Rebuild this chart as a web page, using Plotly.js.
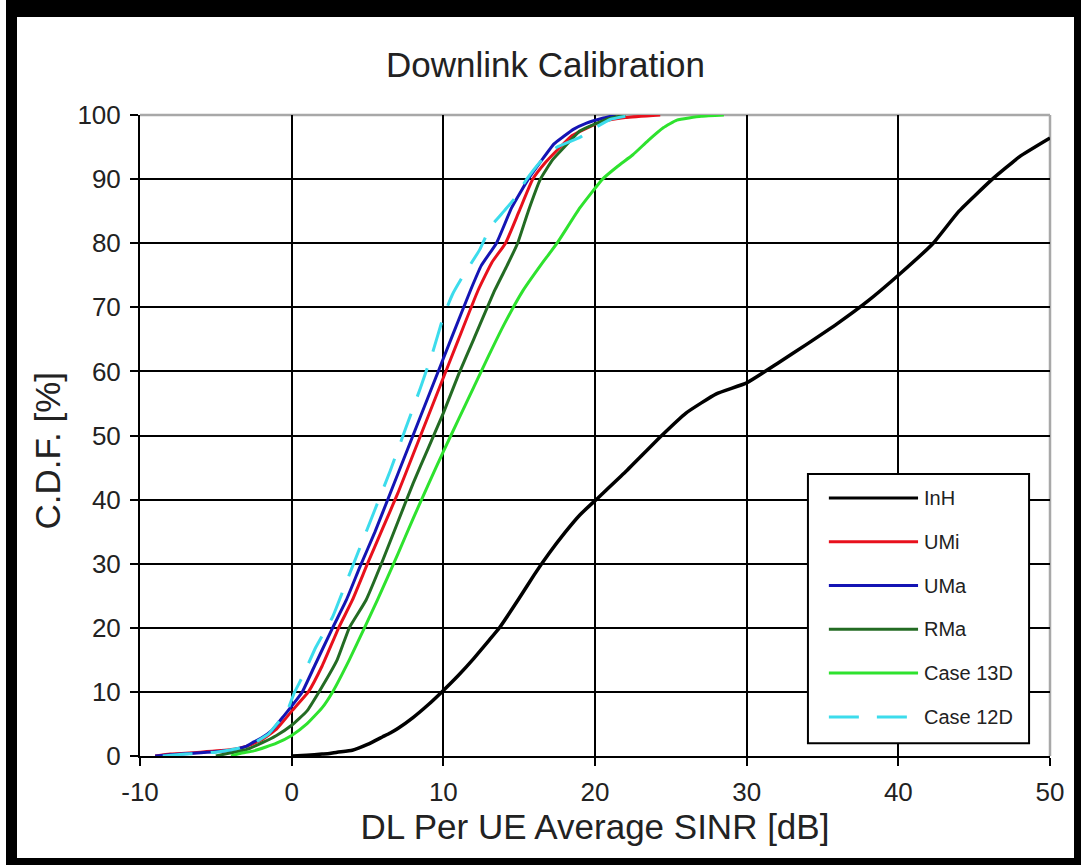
<!DOCTYPE html>
<html>
<head>
<meta charset="utf-8">
<script src="https://cdn.plot.ly/plotly-3.0.1.min.js"></script>
<style>
  html, body { margin: 0; padding: 0; background: #fff; width: 1081px; height: 865px; overflow: hidden; }
  #frame { position: absolute; left: 6px; top: 0; width: 1075px; height: 865px; background: #000; }
  #chart { position: absolute; left: 17px; top: 17px; width: 1057px; height: 841px; background: #fff; }
</style>
</head>
<body>
<div id="frame"></div>
<div id="chart"></div>
<script>
// Downlink SINR CDF per deployment scenario (SINR in dB, CDF in %)
const seriesNames = ["InH", "UMi", "UMa", "RMa", "Case 13D", "Case 12D"];
const seriesColors = ["#000000", "#e8101c", "#1414b4", "#236b23", "#2ee22e", "#3cdcec"];

const inhSinr = [0, 1, 2, 2.5, 3, 4, 5, 6, 6.5, 7, 8, 9, 9.9, 11, 12, 13, 13.7, 15, 16, 17, 18, 19, 20.3, 22, 24.4, 26, 28, 30, 32, 34, 36, 38, 40, 42.3, 44, 46.2, 48, 50];
const inhCdf  = [0, 0.1, 0.3, 0.4, 0.6, 0.9, 1.8, 3, 3.6, 4.3, 6, 8, 10, 12.6, 15.2, 18, 20, 24.6, 28.3, 31.7, 34.8, 37.6, 40.5, 44.3, 50, 53.5, 56.5, 58.2, 61.2, 64.3, 67.5, 71, 75, 80, 85, 90, 93.5, 96.4];

const umiSinr = [-9, -8, -6, -4, -3, -2, -1, 0, 1.1, 2, 3.1, 4.0, 5, 6, 7, 8, 9, 10, 11, 12.3, 13.2, 14.1, 15, 15.9, 16.7, 17.5, 18.5, 19.5, 20.5, 22, 24.3];
const umiCdf  = [0, 0.3, 0.6, 1.0, 1.5, 2.5, 4.2, 7, 10, 14, 20, 24.3, 30, 35.5, 41, 47, 53, 59, 65, 72.7, 77, 80, 85, 90, 92.5, 94.5, 96.8, 98, 99, 99.6, 100];

const umaSinr = [-9, -8, -6, -4, -3, -2.5, -2, -1.3, -0.5, 0, 0.7, 1.5, 2.7, 3.6, 4.5, 5.5, 6.5, 7.5, 8.5, 9.5, 10.5, 11.8, 12.5, 13.5, 14.5, 15.6, 16.5, 17.3, 17.9, 18.6, 19.4, 20.5, 21.4];
const umaCdf  = [0, 0.2, 0.5, 0.9, 1.5, 2.2, 2.8, 4, 6.3, 7.8, 10, 14, 20, 24.3, 29.5, 35, 41, 47, 53, 59, 65, 72.7, 76.5, 80, 85.5, 90, 93, 95.5, 96.6, 97.8, 98.7, 99.5, 100];

const rmaSinr = [-5, -4, -3, -2, -1, 0, 1, 1.8, 3, 3.8, 4.9, 6, 7, 8, 9, 10, 11, 12, 13.4, 14.2, 14.9, 15.6, 16.4, 17.2, 17.9, 19, 20.1, 21, 22];
const rmaCdf  = [0, 0.5, 1.0, 2, 3.2, 4.8, 7, 10, 15, 20, 24.3, 30.5, 36.5, 42.5, 48, 53.5, 59.5, 65, 72.7, 76.5, 80, 85, 90, 93, 94.8, 97.5, 98.7, 99.5, 100];

const case13dSinr = [-4, -3.4, -2.5, -1.7, -1, 0, 1, 2, 2.7, 3.8, 4.8, 5.65, 7, 8, 9, 10, 11, 12, 13, 14, 15.25, 16.4, 17.5, 19, 20.5, 21.5, 22.5, 23.5, 24.5, 25.4, 27, 28.5];
const case13dCdf  = [0, 0.4, 0.8, 1.4, 2, 3.2, 5, 7.5, 10, 15, 20, 24.3, 31.5, 37, 42.3, 47.5, 52.5, 57.5, 62.5, 67.3, 72.6, 76.5, 80, 85.5, 90, 92, 93.8, 96, 98, 99.2, 99.8, 100];

const case12dSinr = [-8.5, -7, -5, -3.5, -2.5, -1.5, -0.8, -0.37, 0.2, 0.7, 1.6, 2.7, 3.5, 4.5, 5.5, 6.5, 7.5, 8.5, 9.3, 10.0, 10.6, 11.2, 12.4, 13.1, 14, 14.7, 15.5, 16.5, 17.5, 19, 20, 21, 22.5];
const case12dCdf  = [0, 0.3, 0.6, 1.2, 2, 3.5, 5.5, 6.6, 10, 12.3, 17, 21.7, 26.5, 32.5, 38.5, 44.5, 51, 57.5, 63, 68.5, 72, 74.5, 79, 82.5, 85, 87, 90, 93, 95, 96.5, 98, 99.3, 100];

const xTickVals = [-10, 0, 10, 20, 30, 40, 50];
const yTickVals = [0, 10, 20, 30, 40, 50, 60, 70, 80, 90, 100];

const sinrData = [inhSinr, umiSinr, umaSinr, rmaSinr, case13dSinr, case12dSinr];
const cdfData  = [inhCdf, umiCdf, umaCdf, rmaCdf, case13dCdf, case12dCdf];

const FONT = "Liberation Sans, Arial, Helvetica, sans-serif";
const TEXT = "#222222";
const dashFor = i => (i === 5 ? "30px,18px" : "solid");

const traces = seriesNames.map((name, i) => ({
  type: "scatter",
  mode: "lines",
  name: name,
  x: sinrData[i],
  y: cdfData[i],
  line: { color: seriesColors[i], width: i === 0 ? 3.5 : 3, dash: dashFor(i), shape: "spline", smoothing: 0.4 },
  showlegend: false,
  hoverinfo: "x+y+name"
}));

// Boxed key inside the lower right of the plot area (paper coordinates)
const key = { x0: 0.734, x1: 0.977, y0: 0.020, y1: 0.440, lineX0: 0.757, lineX1: 0.855, textX: 0.859, firstRow: 0.4025, rowStep: 0.0683 };

const shapes = [
  // light grey frame on the top and right edges of the plot area
  { type: "line", xref: "paper", yref: "paper", x0: 0, x1: 1, y0: 1, y1: 1, line: { color: "#a8a8a8", width: 2.5 }, layer: "between" },
  { type: "line", xref: "paper", yref: "paper", x0: 1, x1: 1, y0: 0, y1: 1, line: { color: "#a8a8a8", width: 2.5 }, layer: "between" },
  // key box
  { type: "rect", xref: "paper", yref: "paper", x0: key.x0, x1: key.x1, y0: key.y0, y1: key.y1,
    fillcolor: "#ffffff", line: { color: "#000000", width: 2 }, layer: "above" }
];
const annotations = [
  // vertical axis title
  { xref: "paper", yref: "paper", x: -0.102, y: 0.477, xanchor: "center", yanchor: "middle",
    text: "C.D.F. [%]", textangle: -90, showarrow: false, font: { family: FONT, size: 35, color: TEXT } }
];
seriesNames.forEach((name, i) => {
  const yy = key.firstRow - i * key.rowStep;
  shapes.push({ type: "line", xref: "paper", yref: "paper", x0: key.lineX0, x1: key.lineX1, y0: yy, y1: yy,
    line: { color: seriesColors[i], width: 3, dash: dashFor(i) }, layer: "above" });
  annotations.push({ xref: "paper", yref: "paper", x: key.textX, y: yy, xanchor: "left", yanchor: "middle",
    text: name, showarrow: false, font: { family: FONT, size: 20, color: TEXT } });
});

const layout = {
  width: 1057,
  height: 841,
  margin: { l: 123, r: 24, t: 98, b: 102 },
  paper_bgcolor: "#ffffff",
  plot_bgcolor: "#ffffff",
  font: { family: FONT, color: TEXT },
  title: {
    text: "Downlink Calibration",
    font: { family: FONT, size: 35, color: TEXT },
    x: 0.5, xref: "container", xanchor: "center",
    y: 0.943, yref: "container", yanchor: "middle"
  },
  xaxis: {
    range: [-10, 50],
    tickvals: xTickVals,
    ticktext: xTickVals.map(String),
    showgrid: true, gridcolor: "#000000", gridwidth: 2,
    zeroline: false,
    showline: true, linecolor: "#000000", linewidth: 2,
    ticks: "outside", ticklen: 8, tickwidth: 2, tickcolor: "#000000",
    tickfont: { family: FONT, size: 26, color: TEXT },
    ticklabelstandoff: 4,
    title: { text: "DL Per UE Average SINR [dB]", font: { family: FONT, size: 35, color: TEXT }, standoff: 1 }
  },
  yaxis: {
    range: [0, 100],
    tickvals: yTickVals,
    ticktext: yTickVals.map(String),
    showgrid: true, gridcolor: "#000000", gridwidth: 2,
    zeroline: false,
    showline: true, linecolor: "#000000", linewidth: 2,
    ticks: "outside", ticklen: 8, tickwidth: 2, tickcolor: "#000000",
    tickfont: { family: FONT, size: 26, color: TEXT },
    ticklabelstandoff: 4
  },
  shapes: shapes,
  annotations: annotations,
  showlegend: false
};

Plotly.newPlot("chart", traces, layout, { displayModeBar: false, staticPlot: true });
</script>
</body>
</html>
